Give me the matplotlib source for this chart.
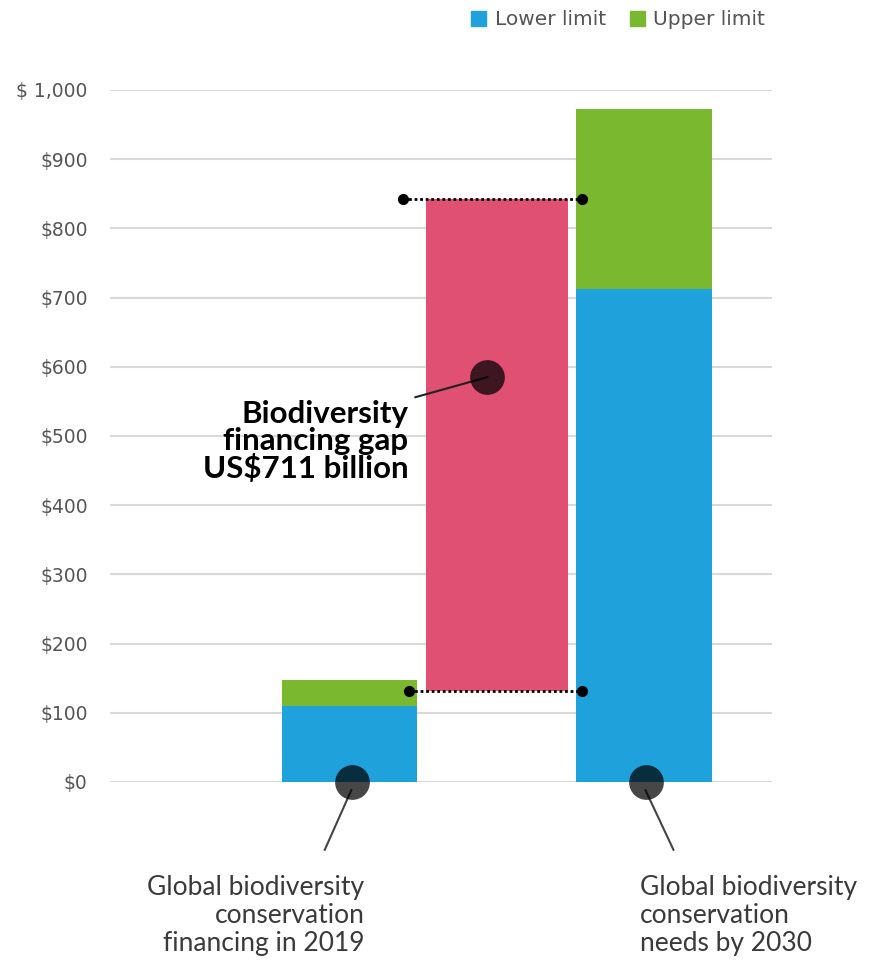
import matplotlib
matplotlib.use('Agg')
import matplotlib.pyplot as plt
from matplotlib.patches import Patch

plt.rcParams['font.family'] = ['Lato', 'DejaVu Sans']

# values in US$ billion
positions = [1, 2, 3]
lower_limit = [110, 712]
upper_limit = [148, 972]
gap_low = 131
gap_high = 842
gap_label = "Biodiversity\nfinancing gap\nUS$711 billion"
left_label = "Global biodiversity\nconservation\nfinancing in 2019"
right_label = "Global biodiversity\nconservation\nneeds by 2030"
yticks = [0, 100, 200, 300, 400, 500, 600, 700, 800, 900, 1000]
ytick_labels = ['$0', '$100', '$200', '$300', '$400', '$500', '$600',
                '$700', '$800', '$900', '$ 1,000']

BLUE = '#1fa1dc'
GREEN = '#7ab830'
PINK = '#e05072'
GRID = '#d9d9d9'
TEXT = '#555555'

fig = plt.figure(figsize=(8.7, 9.61), dpi=100)
ax = fig.add_axes([0.1264, 0.1863, 0.7610, 0.7201])

side = [positions[0], positions[2]]
ax.bar(side, lower_limit, width=0.92, color=BLUE, zorder=2)
ax.bar(side, [u - l for u, l in zip(upper_limit, lower_limit)],
       bottom=lower_limit, width=0.92, color=GREEN, zorder=2)
ax.bar(positions[1], gap_high - gap_low, bottom=gap_low, width=0.96,
       color=PINK, zorder=2)

# dotted guides at the gap ends
for yv, x0 in [(gap_high, 1.364), (gap_low, 1.405)]:
    ax.plot([x0, 2.575], [yv, yv], ls=(0, (1, 1)), color='black', lw=2,
            zorder=4, clip_on=False)
    ax.plot([x0, 2.575], [yv, yv], 'o', color='black', ms=7, zorder=5,
            clip_on=False)

# callout circles
ax.plot([positions[1] - 0.065], [585], 'o', color='black', alpha=0.72,
        ms=25, mec='none', zorder=6, clip_on=False)
ax.plot([1.446, positions[1] - 0.065], [556, 585], color='#222222', lw=1.5,
        zorder=5)
ax.text(1.398, 492, gap_label, ha='right', va='center', fontsize=22.5,
        fontweight='bold', color='black', linespacing=0.95)

for x, dx, lbl, ha, tx in [(positions[0], -0.18, left_label, 'right', 1.099),
                           (positions[2], 0.19, right_label, 'left', 2.97)]:
    ax.plot([x + 0.015], [0], 'o', color='black', alpha=0.72, ms=25,
            mec='none', zorder=6, clip_on=False)
    ax.plot([x + 0.01, x + 0.01 + dx], [-12, -98], color='#444444', lw=1.5,
            clip_on=False, zorder=5)
    ax.text(tx, -193, lbl, ha=ha, va='center', fontsize=19,
            color='#3a3a3a', linespacing=1.13, multialignment=ha)

ax.set_xlim(-0.63, 3.87)
ax.set_ylim(0, 1000)
ax.set_yticks(yticks)
ax.set_yticklabels(ytick_labels, family='DejaVu Sans')
ax.set_xticks([])
ax.tick_params(axis='y', length=0, pad=16, labelsize=13.5, labelcolor=TEXT)
ax.yaxis.grid(True, color=GRID, lw=1.5, zorder=0)
for s in ax.spines.values():
    s.set_visible(False)

handles = [Patch(color=BLUE, label='Lower limit'),
           Patch(color=GREEN, label='Upper limit')]
fig.legend(handles=handles, loc='upper right', bbox_to_anchor=(0.9, 1.008),
           ncol=2, frameon=False, handlelength=0.75, handleheight=0.75,
           handletextpad=0.4, columnspacing=1.2, labelcolor=TEXT,
           prop={'family': 'DejaVu Sans', 'size': 14.5})

fig.savefig('out.png', dpi=100)
